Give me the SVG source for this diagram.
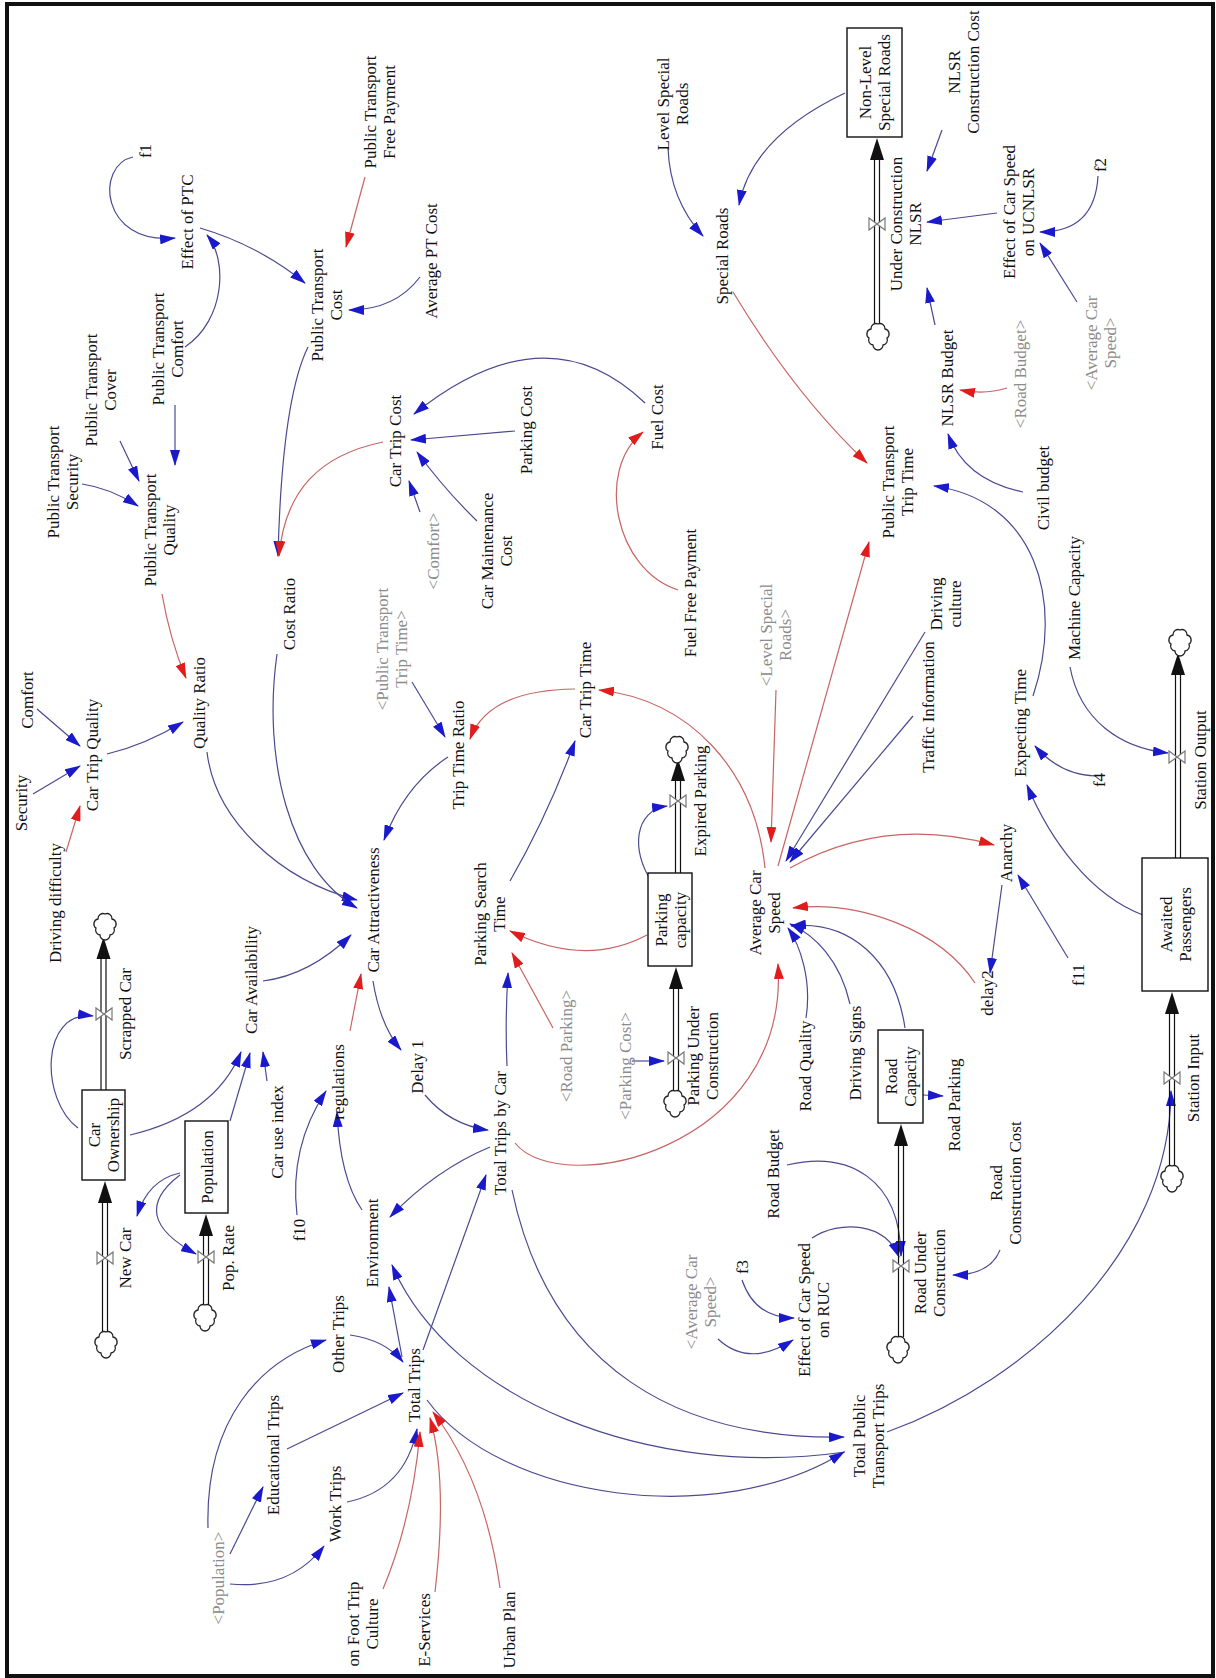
<svg xmlns="http://www.w3.org/2000/svg" xmlns:xlink="http://www.w3.org/1999/xlink" width="1216" height="1678" viewBox="0 0 1216 1678">
<style>
.t{font-family:"Liberation Serif","Times New Roman",serif;font-size:17px;fill:#111;text-anchor:middle}
.g{fill:#8c8c8c}
.b{fill:none;stroke:#4a4a90;stroke-width:1.2;marker-end:url(#ab)}
.r{fill:none;stroke:#c86464;stroke-width:1.2;marker-end:url(#ar)}
.stock{fill:#fff;stroke:#111;stroke-width:1.4}
.pipe{stroke:#111;stroke-width:1.2;fill:none}
.head{fill:#111}
.valve{fill:#fff;stroke:#777;stroke-width:1.2}
.cloud{fill:#fff;stroke:#222;stroke-width:1.3}
</style>
<defs>
<marker id="ab" markerWidth="16" markerHeight="10" refX="15" refY="5" orient="auto" markerUnits="userSpaceOnUse"><path d="M0,0 L16,5 L0,10 z" fill="#1a1acc"/></marker>
<marker id="ar" markerWidth="16" markerHeight="10" refX="15" refY="5" orient="auto" markerUnits="userSpaceOnUse"><path d="M0,0 L16,5 L0,10 z" fill="#e01c1c"/></marker>
<path id="cloud" class="cloud" d="M-5,10 A5,5 0 0 1 -9,3 A5,5 0 0 1 -7,-6 A5,5 0 0 1 0,-11 A5,5 0 0 1 7,-6 A5,5 0 0 1 9,3 A5,5 0 0 1 5,10 A5,5 0 0 1 -5,10 Z"/>
<path id="valve" class="valve" d="M-8,-6 L8,6 L8,-6 L-8,6 Z"/>
</defs>
<rect x="0" y="0" width="1216" height="1678" fill="#fff"/>
<rect x="7" y="4" width="1206" height="1672" fill="none" stroke="#111" stroke-width="4"/>

<g id="connectors">
<path class="b" d="M133,157 C95,165 100,245 175,238"/>
<path class="b" d="M185,347 C225,320 228,260 207,235"/>
<path class="b" d="M200,228 Q258,245 305,283"/>
<path class="r" d="M365,177 L346,247"/>
<path class="b" d="M420,277 Q395,310 349,310"/>
<path class="b" d="M308,347 Q282,400 278,556"/>
<path class="r" d="M383,442 C320,455 285,490 279,556"/>
<path class="b" d="M645,403 Q546,308 414,414"/>
<path class="b" d="M515,431 L411,440"/>
<path class="b" d="M477,521 Q445,490 417,452"/>
<path class="b" d="M420,512 L409,481"/>
<path class="r" d="M678,590 C615,570 595,470 643,432"/>
<path class="b" d="M82,484 Q110,488 138,506"/>
<path class="b" d="M120,441 L139,481"/>
<path class="b" d="M175,405 L175,465"/>
<path class="r" d="M162,594 Q170,640 186,678"/>
<path class="b" d="M107,754 Q145,745 183,722"/>
<path class="b" d="M37,709 L80,746"/>
<path class="b" d="M33,794 L80,766"/>
<path class="r" d="M66,852 L80,806"/>
<path class="b" d="M207,752 C215,820 280,880 357,900"/>
<path class="b" d="M277,654 C262,760 290,870 357,908"/>
<path class="b" d="M448,757 Q405,785 384,840"/>
<path class="b" d="M412,682 L445,737"/>
<path class="r" d="M575,689 Q488,690 470,739"/>
<path class="b" d="M510,881 Q548,815 575,741"/>
<path class="r" d="M765,868 C755,770 690,700 599,690"/>
<path class="r" d="M778,866 L869,542"/>
<path class="r" d="M733,292 Q795,395 867,463"/>
<path class="b" d="M668,148 Q670,200 703,236"/>
<path class="b" d="M845,93 Q752,137 739,205"/>
<path class="b" d="M1023,492 Q965,480 948,434"/>
<path class="b" d="M1033,696 C1065,600 1035,500 934,486"/>
<path class="b" d="M1096,776 Q1060,775 1035,746"/>
<path class="b" d="M1143,915 C1090,895 1050,840 1027,785"/>
<path class="b" d="M1070,667 C1080,720 1120,748 1168,753"/>
<path class="b" d="M913,716 L790,862"/>
<path class="b" d="M925,632 L786,861"/>
<path class="r" d="M776,690 L771,842"/>
<path class="r" d="M975,983 C940,930 860,900 793,908"/>
<path class="b" d="M905,1028 C895,960 850,920 791,926"/>
<path class="b" d="M850,1004 C840,960 815,935 790,924"/>
<path class="b" d="M806,1018 C812,980 800,945 788,928"/>
<path class="r" d="M790,868 Q885,815 994,845"/>
<path class="b" d="M1002,885 L990,973"/>
<path class="b" d="M1068,958 L1018,875"/>
<path class="r" d="M515,1143 C560,1200 790,1150 778,964"/>
<path class="r" d="M647,935 Q585,968 510,931"/>
<path class="r" d="M553,1028 L512,953"/>
<path class="b" d="M507,1066 Q505,1020 508,973"/>
<path class="b" d="M632,1061 L664,1061"/>
<path class="b" d="M652,882 C630,850 635,810 667,806"/>
<path class="b" d="M373,981 Q380,1025 401,1050"/>
<path class="b" d="M425,1095 Q450,1125 488,1130"/>
<path class="r" d="M350,1031 L361,974"/>
<path class="b" d="M297,1215 Q289,1147 326,1091"/>
<path class="b" d="M362,1210 Q340,1178 337,1112"/>
<path class="b" d="M263,981 Q310,975 351,935"/>
<path class="b" d="M130,1135 Q215,1115 241,1052"/>
<path class="b" d="M230,1121 L250,1053"/>
<path class="b" d="M267,1081 L263,1052"/>
<path class="b" d="M78,1128 C40,1100 40,1010 93,1016"/>
<path class="b" d="M180,1173 Q148,1180 137,1216"/>
<path class="b" d="M180,1175 Q126,1216 196,1254"/>
<path class="b" d="M490,1147 Q435,1170 390,1217"/>
<path class="b" d="M402,1357 L389,1287"/>
<path class="b" d="M845,1452 C650,1480 450,1400 392,1265"/>
<path class="b" d="M423,1350 L486,1175"/>
<path class="b" d="M512,1190 C550,1370 680,1440 844,1437"/>
<path class="b" d="M427,1400 C500,1500 720,1530 844,1452"/>
<path class="b" d="M287,1449 L403,1393"/>
<path class="b" d="M350,1335 Q385,1340 403,1362"/>
<path class="b" d="M347,1502 Q405,1490 417,1429"/>
<path class="r" d="M383,1589 Q412,1520 420,1432"/>
<path class="r" d="M435,1592 Q448,1480 430,1418"/>
<path class="r" d="M500,1588 Q485,1480 433,1412"/>
<path class="b" d="M208,1528 C205,1420 260,1360 326,1340"/>
<path class="b" d="M230,1554 L263,1487"/>
<path class="b" d="M230,1584 Q290,1590 324,1546"/>
<path class="b" d="M742,1280 Q755,1318 794,1318"/>
<path class="b" d="M718,1339 Q749,1368 793,1340"/>
<path class="b" d="M787,1165 C850,1150 900,1180 901,1256"/>
<path class="b" d="M812,1238 C840,1220 885,1222 899,1257"/>
<path class="b" d="M1000,1250 Q990,1275 953,1275"/>
<path class="b" d="M923,1095 L943,1096"/>
<path class="b" d="M887,1432 C1030,1380 1170,1250 1171,1091"/>
<path class="b" d="M942,130 L927,171"/>
<path class="b" d="M997,213 L927,222"/>
<path class="b" d="M1098,176 Q1095,232 1040,232"/>
<path class="b" d="M1077,302 L1040,243"/>
<path class="b" d="M935,325 L927,288"/>
<path class="r" d="M1007,388 Q985,395 960,390"/>
</g>

<g id="flows">
<path class="pipe" d="M101,1090 V959 M106,1090 V959"/><path class="head" d="M103.5,937 L96.5,959 L110.5,959 Z"/>
<path class="pipe" d="M102.5,1332 V1203 M107.5,1332 V1203"/><path class="head" d="M105,1181 L98,1203 L112,1203 Z"/>
<path class="pipe" d="M203.5,1305 V1236 M208.5,1305 V1236"/><path class="head" d="M206,1214 L199,1236 L213,1236 Z"/>
<path class="pipe" d="M673.5,1091 V989 M678.5,1091 V989"/><path class="head" d="M676,967 L669,989 L683,989 Z"/>
<path class="pipe" d="M675.5,873 V781 M680.5,873 V781"/><path class="head" d="M678,759 L671,781 L685,781 Z"/>
<path class="pipe" d="M874.5,324 V160 M879.5,324 V160"/><path class="head" d="M877,138 L870,160 L884,160 Z"/>
<path class="pipe" d="M898.5,1337 V1146 M903.5,1337 V1146"/><path class="head" d="M901,1124 L894,1146 L908,1146 Z"/>
<path class="pipe" d="M1169.5,1166 V1014 M1174.5,1166 V1014"/><path class="head" d="M1172,992 L1165,1014 L1179,1014 Z"/>
<path class="pipe" d="M1175.5,858 V675 M1180.5,858 V675"/><path class="head" d="M1178,653 L1171,675 L1185,675 Z"/>
<use xlink:href="#valve" x="104" y="1014"/>
<use xlink:href="#valve" x="105" y="1258"/>
<use xlink:href="#valve" x="206" y="1257"/>
<use xlink:href="#valve" x="676" y="1058"/>
<use xlink:href="#valve" x="678" y="801"/>
<use xlink:href="#valve" x="877" y="224"/>
<use xlink:href="#valve" x="901" y="1266"/>
<use xlink:href="#valve" x="1172" y="1078"/>
<use xlink:href="#valve" x="1177" y="757"/>
<use xlink:href="#cloud" x="105" y="925"/>
<use xlink:href="#cloud" x="106" y="1343"/>
<use xlink:href="#cloud" x="205" y="1316"/>
<use xlink:href="#cloud" x="675" y="1102"/>
<use xlink:href="#cloud" x="677" y="748"/>
<use xlink:href="#cloud" x="878" y="335"/>
<use xlink:href="#cloud" x="898" y="1348"/>
<use xlink:href="#cloud" x="1172" y="1177"/>
<use xlink:href="#cloud" x="1180" y="641"/>
</g>

<g id="car-ownership"><rect class="stock" x="82" y="1090" width="43" height="90"/><text class="t" transform="translate(103.5 1135) rotate(-90)"><tspan x="0" y="-3.5">Car</tspan><tspan x="0" y="15.5">Ownership</tspan></text></g>
<g id="population"><rect class="stock" x="185" y="1121" width="43" height="92"/><text class="t" transform="translate(206.5 1167) rotate(-90)" y="6">Population</text></g>
<g id="parking-capacity"><rect class="stock" x="648" y="873" width="44" height="93"/><text class="t" transform="translate(670 920) rotate(-90)"><tspan x="0" y="-3.5">Parking</tspan><tspan x="0" y="15.5">capacity</tspan></text></g>
<g id="non-level-special-roads"><rect class="stock" x="847" y="28" width="55" height="109"/><text class="t" transform="translate(874.5 82.5) rotate(-90)"><tspan x="0" y="-3.5">Non-Level</tspan><tspan x="0" y="15.5">Special Roads</tspan></text></g>
<g id="road-capacity"><rect class="stock" x="878" y="1030" width="45" height="93"/><text class="t" transform="translate(900.5 1076.5) rotate(-90)"><tspan x="0" y="-3.5">Road</tspan><tspan x="0" y="15.5">Capacity</tspan></text></g>
<g id="awaited-passengers"><rect class="stock" x="1142" y="858" width="66" height="133"/><text class="t" transform="translate(1175 924.5) rotate(-90)"><tspan x="0" y="-3.5">Awaited</tspan><tspan x="0" y="15.5">Passengers</tspan></text></g>

<g id="f1"><text class="t" transform="translate(145 151) rotate(-90)" y="6">f1</text></g>
<g id="effect-of-ptc"><text class="t" transform="translate(187 222) rotate(-90)" y="6">Effect of PTC</text></g>
<g id="pt-free-payment"><text class="t" transform="translate(379 112) rotate(-90)"><tspan x="0" y="-3.5">Public Transport</tspan><tspan x="0" y="15.5">Free Payment</tspan></text></g>
<g id="pt-cost"><text class="t" transform="translate(326 305) rotate(-90)"><tspan x="0" y="-3.5">Public Transport</tspan><tspan x="0" y="15.5">Cost</tspan></text></g>
<g id="pt-comfort"><text class="t" transform="translate(167 349) rotate(-90)"><tspan x="0" y="-3.5">Public Transport</tspan><tspan x="0" y="15.5">Comfort</tspan></text></g>
<g id="pt-cover"><text class="t" transform="translate(100 390) rotate(-90)"><tspan x="0" y="-3.5">Public Transport</tspan><tspan x="0" y="15.5">Cover</tspan></text></g>
<g id="pt-security"><text class="t" transform="translate(62 482) rotate(-90)"><tspan x="0" y="-3.5">Public Transport</tspan><tspan x="0" y="15.5">Security</tspan></text></g>
<g id="pt-quality"><text class="t" transform="translate(159 530) rotate(-90)"><tspan x="0" y="-3.5">Public Transport</tspan><tspan x="0" y="15.5">Quality</tspan></text></g>
<g id="comfort"><text class="t" transform="translate(27 700) rotate(-90)" y="6">Comfort</text></g>
<g id="security"><text class="t" transform="translate(21 803) rotate(-90)" y="6">Security</text></g>
<g id="car-trip-quality"><text class="t" transform="translate(92 755) rotate(-90)" y="6">Car Trip Quality</text></g>
<g id="quality-ratio"><text class="t" transform="translate(199 703) rotate(-90)" y="6">Quality Ratio</text></g>
<g id="cost-ratio"><text class="t" transform="translate(289 614) rotate(-90)" y="6">Cost Ratio</text></g>
<g id="shadow-pt-trip-time"><text class="t g" transform="translate(391 649) rotate(-90)"><tspan x="0" y="-3.5">&lt;Public Transport</tspan><tspan x="0" y="15.5">Trip Time&gt;</tspan></text></g>
<g id="car-trip-cost"><text class="t" transform="translate(395 441) rotate(-90)" y="6">Car Trip Cost</text></g>
<g id="average-pt-cost"><text class="t" transform="translate(431 261) rotate(-90)" y="6">Average PT Cost</text></g>
<g id="parking-cost"><text class="t" transform="translate(526 430) rotate(-90)" y="6">Parking Cost</text></g>
<g id="fuel-cost"><text class="t" transform="translate(657 417) rotate(-90)" y="6">Fuel Cost</text></g>
<g id="shadow-comfort"><text class="t g" transform="translate(433 551) rotate(-90)" y="6">&lt;Comfort&gt;</text></g>
<g id="car-maintenance-cost"><text class="t" transform="translate(496 551) rotate(-90)"><tspan x="0" y="-3.5">Car Maintenance</tspan><tspan x="0" y="15.5">Cost</tspan></text></g>
<g id="fuel-free-payment"><text class="t" transform="translate(690 593) rotate(-90)" y="6">Fuel Free Payment</text></g>
<g id="shadow-level-special-roads"><text class="t g" transform="translate(775 635) rotate(-90)"><tspan x="0" y="-3.5">&lt;Level Special</tspan><tspan x="0" y="15.5">Roads&gt;</tspan></text></g>
<g id="trip-time-ratio"><text class="t" transform="translate(458 755) rotate(-90)" y="6">Trip Time Ratio</text></g>
<g id="car-trip-time"><text class="t" transform="translate(585 690) rotate(-90)" y="6">Car Trip Time</text></g>
<g id="expired-parking"><text class="t" transform="translate(700 801) rotate(-90)" y="6">Expired Parking</text></g>
<g id="level-special-roads"><text class="t" transform="translate(672 104) rotate(-90)"><tspan x="0" y="-3.5">Level Special</tspan><tspan x="0" y="15.5">Roads</tspan></text></g>
<g id="special-roads"><text class="t" transform="translate(722 256) rotate(-90)" y="6">Special Roads</text></g>
<g id="nlsr-construction-cost"><text class="t" transform="translate(963 72) rotate(-90)"><tspan x="0" y="-3.5">NLSR</tspan><tspan x="0" y="15.5">Construction Cost</tspan></text></g>
<g id="under-construction-nlsr"><text class="t" transform="translate(905 224) rotate(-90)"><tspan x="0" y="-3.5">Under Construction</tspan><tspan x="0" y="15.5">NLSR</tspan></text></g>
<g id="effect-ucnlsr"><text class="t" transform="translate(1018 212) rotate(-90)"><tspan x="0" y="-3.5">Effect of Car Speed</tspan><tspan x="0" y="15.5">on UCNLSR</tspan></text></g>
<g id="f2"><text class="t" transform="translate(1100 165) rotate(-90)" y="6">f2</text></g>
<g id="shadow-acs-1"><text class="t g" transform="translate(1100 343) rotate(-90)"><tspan x="0" y="-3.5">&lt;Average Car</tspan><tspan x="0" y="15.5">Speed&gt;</tspan></text></g>
<g id="nlsr-budget"><text class="t" transform="translate(947 378) rotate(-90)" y="6">NLSR Budget</text></g>
<g id="shadow-road-budget"><text class="t g" transform="translate(1020 374) rotate(-90)" y="6">&lt;Road Budget&gt;</text></g>
<g id="pt-trip-time"><text class="t" transform="translate(897 482) rotate(-90)"><tspan x="0" y="-3.5">Public Transport</tspan><tspan x="0" y="15.5">Trip Time</tspan></text></g>
<g id="civil-budget"><text class="t" transform="translate(1043 488) rotate(-90)" y="6">Civil budget</text></g>
<g id="machine-capacity"><text class="t" transform="translate(1074 598) rotate(-90)" y="6">Machine Capacity</text></g>
<g id="driving-culture"><text class="t" transform="translate(945 604) rotate(-90)"><tspan x="0" y="-3.5">Driving</tspan><tspan x="0" y="15.5">culture</tspan></text></g>
<g id="traffic-information"><text class="t" transform="translate(928 707) rotate(-90)" y="6">Traffic Information</text></g>
<g id="expecting-time"><text class="t" transform="translate(1020 723) rotate(-90)" y="6">Expecting Time</text></g>
<g id="f4"><text class="t" transform="translate(1099 780) rotate(-90)" y="6">f4</text></g>
<g id="station-output"><text class="t" transform="translate(1200 760) rotate(-90)" y="6">Station Output</text></g>
<g id="driving-difficulty"><text class="t" transform="translate(55 903) rotate(-90)" y="6">Driving difficulty</text></g>
<g id="scrapped-car"><text class="t" transform="translate(125 1014) rotate(-90)" y="6">Scrapped Car</text></g>
<g id="car-availability"><text class="t" transform="translate(251 980) rotate(-90)" y="6">Car Availability</text></g>
<g id="car-use-index"><text class="t" transform="translate(277 1132) rotate(-90)" y="6">Car use index</text></g>
<g id="car-attractiveness"><text class="t" transform="translate(373 910) rotate(-90)" y="6">Car Attractiveness</text></g>
<g id="regulations"><text class="t" transform="translate(338 1082) rotate(-90)" y="6">regulations</text></g>
<g id="f10"><text class="t" transform="translate(299 1230) rotate(-90)" y="6">f10</text></g>
<g id="environment"><text class="t" transform="translate(372 1243) rotate(-90)" y="6">Environment</text></g>
<g id="new-car"><text class="t" transform="translate(125 1258) rotate(-90)" y="6">New Car</text></g>
<g id="pop-rate"><text class="t" transform="translate(228 1258) rotate(-90)" y="6">Pop. Rate</text></g>
<g id="shadow-population"><text class="t g" transform="translate(218 1578) rotate(-90)" y="6">&lt;Population&gt;</text></g>
<g id="educational-trips"><text class="t" transform="translate(273 1455) rotate(-90)" y="6">Educational Trips</text></g>
<g id="work-trips"><text class="t" transform="translate(335 1504) rotate(-90)" y="6">Work Trips</text></g>
<g id="other-trips"><text class="t" transform="translate(338 1334) rotate(-90)" y="6">Other Trips</text></g>
<g id="on-foot-trip-culture"><text class="t" transform="translate(362 1624) rotate(-90)"><tspan x="0" y="-3.5">on Foot Trip</tspan><tspan x="0" y="15.5">Culture</tspan></text></g>
<g id="total-trips"><text class="t" transform="translate(414 1385) rotate(-90)" y="6">Total Trips</text></g>
<g id="e-services"><text class="t" transform="translate(424 1630) rotate(-90)" y="6">E-Services</text></g>
<g id="urban-plan"><text class="t" transform="translate(509 1630) rotate(-90)" y="6">Urban Plan</text></g>
<g id="shadow-acs-2"><text class="t g" transform="translate(700 1302) rotate(-90)"><tspan x="0" y="-3.5">&lt;Average Car</tspan><tspan x="0" y="15.5">Speed&gt;</tspan></text></g>
<g id="f3"><text class="t" transform="translate(742 1267) rotate(-90)" y="6">f3</text></g>
<g id="effect-ruc"><text class="t" transform="translate(813 1310) rotate(-90)"><tspan x="0" y="-3.5">Effect of Car Speed</tspan><tspan x="0" y="15.5">on RUC</tspan></text></g>
<g id="parking-search-time"><text class="t" transform="translate(489 914) rotate(-90)"><tspan x="0" y="-3.5">Parking Search</tspan><tspan x="0" y="15.5">Time</tspan></text></g>
<g id="parking-under-construction"><text class="t" transform="translate(702 1056) rotate(-90)"><tspan x="0" y="-3.5">Parking Under</tspan><tspan x="0" y="15.5">Construction</tspan></text></g>
<g id="shadow-parking-cost"><text class="t g" transform="translate(625 1066) rotate(-90)" y="6">&lt;Parking Cost&gt;</text></g>
<g id="shadow-road-parking"><text class="t g" transform="translate(566 1046) rotate(-90)" y="6">&lt;Road Parking&gt;</text></g>
<g id="delay-1"><text class="t" transform="translate(417 1067) rotate(-90)" y="6">Delay 1</text></g>
<g id="total-trips-by-car"><text class="t" transform="translate(500 1133) rotate(-90)" y="6">Total Trips by Car</text></g>
<g id="average-car-speed"><text class="t" transform="translate(764 913) rotate(-90)"><tspan x="0" y="-3.5">Average Car</tspan><tspan x="0" y="15.5">Speed</tspan></text></g>
<g id="road-budget"><text class="t" transform="translate(773 1174) rotate(-90)" y="6">Road Budget</text></g>
<g id="road-quality"><text class="t" transform="translate(805 1066) rotate(-90)" y="6">Road Quality</text></g>
<g id="anarchy"><text class="t" transform="translate(1006 853) rotate(-90)" y="6">Anarchy</text></g>
<g id="delay2"><text class="t" transform="translate(987 993) rotate(-90)" y="6">delay2</text></g>
<g id="f11"><text class="t" transform="translate(1078 975) rotate(-90)" y="6">f11</text></g>
<g id="station-input"><text class="t" transform="translate(1193 1078) rotate(-90)" y="6">Station Input</text></g>
<g id="road-parking"><text class="t" transform="translate(954 1105) rotate(-90)" y="6">Road Parking</text></g>
<g id="driving-signs"><text class="t" transform="translate(855 1053) rotate(-90)" y="6">Driving Signs</text></g>
<g id="road-under-construction"><text class="t" transform="translate(929 1273) rotate(-90)"><tspan x="0" y="-3.5">Road Under</tspan><tspan x="0" y="15.5">Construction</tspan></text></g>
<g id="road-construction-cost"><text class="t" transform="translate(1005 1183) rotate(-90)"><tspan x="0" y="-3.5">Road</tspan><tspan x="0" y="15.5">Construction Cost</tspan></text></g>
<g id="total-pt-trips"><text class="t" transform="translate(868 1436) rotate(-90)"><tspan x="0" y="-3.5">Total Public</tspan><tspan x="0" y="15.5">Transport Trips</tspan></text></g>
</svg>
